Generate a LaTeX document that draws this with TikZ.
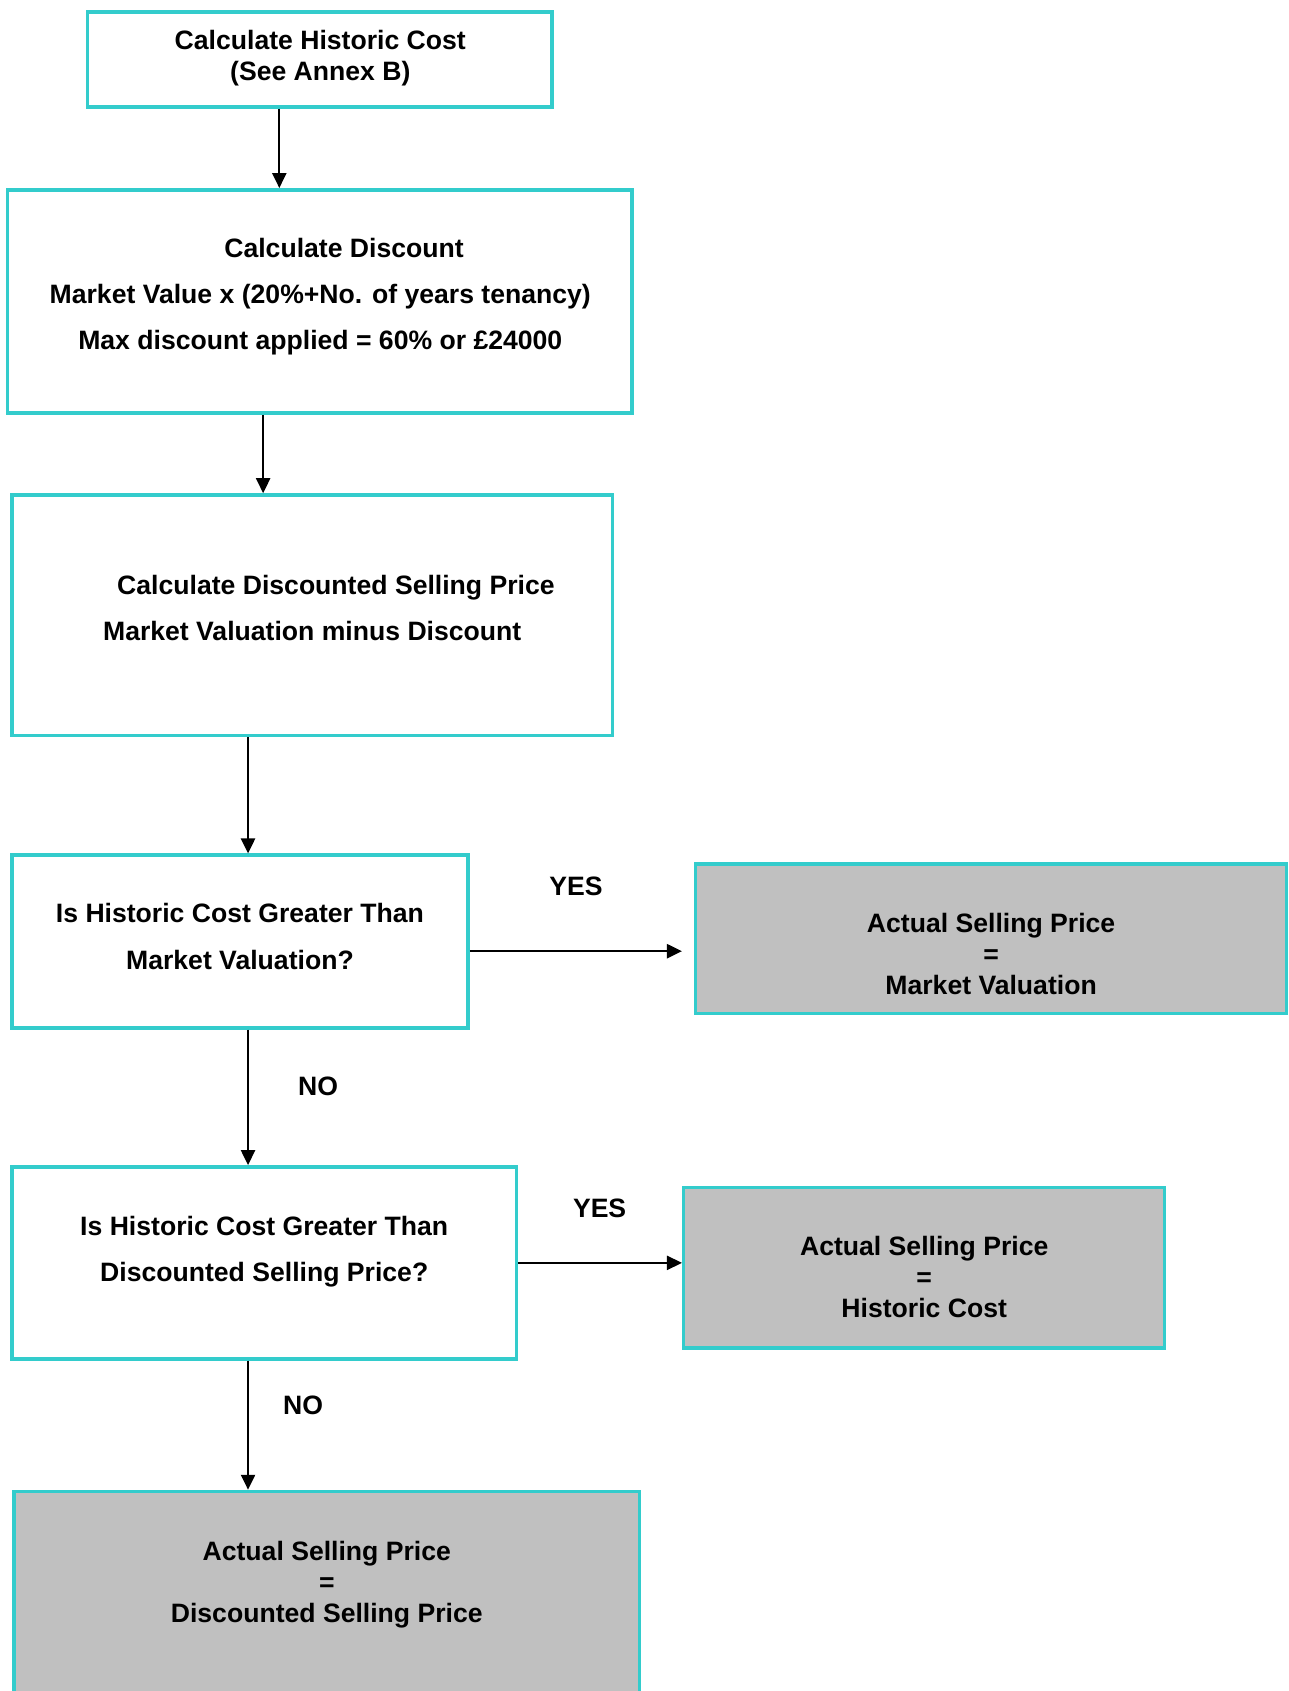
\documentclass[tikz,border=0pt]{standalone}
\usepackage{fontspec}
\setmainfont{Liberation Sans}
\usetikzlibrary{arrows.meta}
\definecolor{boxteal}{HTML}{33CCCC}
\definecolor{boxgray}{HTML}{C0C0C0}
\begin{document}
\begin{tikzpicture}[x=1.0787pt,y=-1.0787pt,
  box/.style={draw=boxteal,line width=3.5pt,inner sep=0pt,fill=white},
  greybox/.style={box,fill=boxgray},
  txt/.style={font=\fontsize{26.6}{31}\selectfont\bfseries,align=center,inner sep=0pt},
  widetxt/.style={font=\fontsize{26.6}{46.4}\selectfont\bfseries,align=center,inner sep=0pt},
  arr/.style={-{Triangle[length=15pt,width=14pt]},line width=2.3pt},
  lbl/.style={font=\fontsize{26.6}{31}\selectfont\bfseries,inner sep=0pt}]
\path[use as bounding box,clip] (0,0) rectangle (1195,1568);
\fill[white] (0,0) rectangle (1195,1568);
% boxes
\node[box,minimum width=464.9pt,minimum height=94.9pt] (b1) at (296.5,55) {};
\node[box,minimum width=624.6pt,minimum height=223.3pt] (b2) at (296.5,279.5) {};
\node[box,minimum width=600.8pt,minimum height=240.6pt] (b3) at (289.5,570.5) {};
\node[box,minimum width=456.3pt,minimum height=172.6pt] (b4) at (222.5,873) {};
\node[greybox,minimum width=591.1pt,minimum height=149.9pt] (b5) at (919,870.5) {};
\node[box,minimum width=504.8pt,minimum height=192.0pt] (b6) at (245,1171) {};
\node[greybox,minimum width=481.1pt,minimum height=160.7pt] (b7) at (857,1175.5) {};
\node[greybox,minimum width=625.6pt,minimum height=234.1pt] (b8) at (303,1491.5) {};
% texts
\node[txt] (t1) at (297,53.5) {Calculate Historic Cost\\(See Annex B)};
\node[widetxt] (t2) at (297,275) {\hspace*{47.5pt}Calculate Discount\\Market Value x (20\%+No. of years tenancy)\\Max discount applied = 60\% or £24000};
\node[widetxt] (t3) at (289.5,563.5) {\hspace*{47.5pt}Calculate Discounted Selling Price\\Market Valuation minus Discount};
\node[widetxt] (t4) at (222.5,868.5) {Is Historic Cost Greater Than\\Market Valuation?};
\node[txt] (t5) at (919,884.5) {Actual Selling Price\\=\\Market Valuation};
\node[widetxt] (t6) at (245,1160.5) {Is Historic Cost Greater Than\\Discounted Selling Price?};
\node[txt] (t7) at (857,1184) {Actual Selling Price\\=\\Historic Cost};
\node[txt] (t8) at (303,1469) {Actual Selling Price\\=\\Discounted Selling Price};
% labels
\node[lbl] (yes1) at (534,822) {YES};
\node[lbl] (no1) at (295,1007) {NO};
\node[lbl] (yes2) at (556,1120) {YES};
\node[lbl] (no2) at (281,1303) {NO};
% connectors
\coordinate (c1) at (259,0);
\coordinate (c2) at (244,0);
\coordinate (c3) at (230,0);
\coordinate (yA) at (0,882);
\draw[arr] (b1.south -| c1) -- (b2.north -| c1);
\draw[arr] (b2.south -| c2) -- (b3.north -| c2);
\draw[arr] (b3.south -| c3) -- (b4.north -| c3);
\draw[arr] (b4.south -| c3) -- (b6.north -| c3);
\draw[arr] (b6.south -| c3) -- (b8.north -| c3);
\draw[arr,shorten >=11.9pt] (b4.east |- yA) -- (b5.west |- yA);
\draw[arr] (b6.east) -- (b6.east -| b7.west);
\end{tikzpicture}
\end{document}
